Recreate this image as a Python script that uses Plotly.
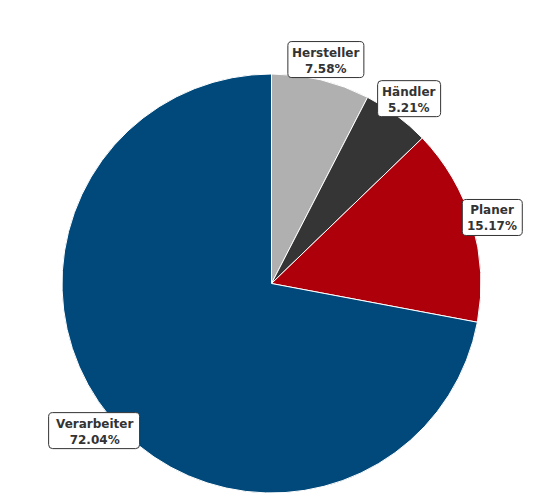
import math
import plotly.graph_objects as go

labels = ["Hersteller", "Händler", "Planer", "Verarbeiter"]
shares = [7.58, 5.21, 15.17, 72.04]
colors = ["#b0b0b0", "#353535", "#ad000b", "#00497a"]

# label box widths in px (style only)
box_w = [76, 63, 60, 91]
box_h = 36

W, H = 546, 497
off = 8  # page body margin
cx, cy, r = 271.5 - off, 283.5 - off, 209.5


def px2paper(x, y):
    return x / W, 1 - y / H


fig = go.Figure(go.Pie(
    labels=labels,
    values=shares,
    sort=False,
    direction="clockwise",
    rotation=0,
    textinfo="none",
    hoverinfo="label+percent",
    marker=dict(colors=colors, line=dict(color="white", width=1)),
    domain=dict(x=[(cx - r) / W, (cx + r) / W], y=[1 - (cy + r) / H, 1 - (cy - r) / H]),
    showlegend=False,
))


def rounded_box(x0, y0, x1, y1, rad=4):
    def p(x, y):
        a, b = px2paper(x, y)
        return f"{a:.5f},{b:.5f}"
    return (
        f"M {p(x0 + rad, y0)} L {p(x1 - rad, y0)} Q {p(x1, y0)} {p(x1, y0 + rad)} "
        f"L {p(x1, y1 - rad)} Q {p(x1, y1)} {p(x1 - rad, y1)} "
        f"L {p(x0 + rad, y1)} Q {p(x0, y1)} {p(x0, y1 - rad)} "
        f"L {p(x0, y0 + rad)} Q {p(x0, y0)} {p(x0 + rad, y0)} Z"
    )


# boxed labels at 1.1 x radius along each slice's mid-angle
total = sum(shares)
cum = 0
for lab, v, bw in zip(labels, shares, box_w):
    mid = (cum + v / 2) / total * 2 * math.pi
    cum += v
    bx = cx + 1.1 * r * math.sin(mid)
    by = cy - 1.1 * r * math.cos(mid)
    fig.add_shape(
        type="path", xref="paper", yref="paper",
        path=rounded_box(bx - bw / 2, by - box_h / 2, bx + bw / 2, by + box_h / 2),
        fillcolor="white", line=dict(color="#333333", width=1), layer="above",
    )
    ax, ay = px2paper(bx, by + 1)
    fig.add_annotation(
        x=ax, y=ay, xref="paper", yref="paper",
        text=f"<b>{lab}</b><br><b>{v:.2f}%</b>",
        showarrow=False,
        font=dict(family="DejaVu Sans", size=12, color="#333333"),
        xanchor="center", yanchor="middle",
    )

fig.update_layout(
    width=W, height=H,
    margin=dict(l=0, r=0, t=0, b=0),
    paper_bgcolor="white",
    plot_bgcolor="white",
)

fig.write_html("out.html")
